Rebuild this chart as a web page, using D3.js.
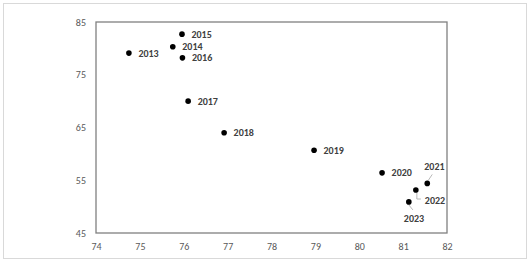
<!DOCTYPE html>
<html>
<head>
<meta charset="utf-8">
<script src="https://cdn.jsdelivr.net/npm/d3@7"></script>
<style>
  body { margin: 0; background: #fff; }
  text { font-family: Carlito, "Liberation Sans", Arial, sans-serif; }
</style>
</head>
<body>
<div id="chart"></div>
<script>
//chart data
var years = ['2013', '2014', '2015', '2016', '2017', '2018', '2019', '2020', '2021', '2022', '2023'];
var xValues = [74.75, 75.75, 75.96, 75.97, 76.1, 76.92, 78.97, 80.52, 81.55, 81.29, 81.13];
var yValues = [79.1, 80.3, 82.7, 78.2, 70.0, 64.0, 60.7, 56.4, 54.4, 53.15, 50.9];
var xTicks = [74, 75, 76, 77, 78, 79, 80, 81, 82];
var yTicks = [45, 55, 65, 75, 85];

//label placement: dx/dy from point, leader line for crowded ones
var labelPos = {
    '2021': { dx: -3, dy: -17, anchor: 'start', leader: [[1, -3], [5, -9]] },
    '2022': { dx: 9, dy: 10, anchor: 'start', leader: [[1, 3], [1, 9], [5, 9]] },
    '2023': { dx: -5, dy: 17, anchor: 'start', leader: [[0, 3], [4, 8]] }
};

var width = 530, height = 263,
    plot = { left: 96, right: 447, top: 22, bottom: 233 };

var svg = d3.select('#chart').append('svg')
    .attr('width', width)
    .attr('height', height);

//outer border
svg.append('rect')
    .attr('x', 3.5).attr('y', 3.5)
    .attr('width', 523).attr('height', 255)
    .attr('fill', '#fff')
    .attr('stroke', '#d9d9d9')
    .attr('stroke-width', 1);

var x = d3.scaleLinear().domain([74, 82]).range([plot.left, plot.right]);
var y = d3.scaleLinear().domain([45, 85]).range([plot.bottom, plot.top]);

//plot frame
svg.append('rect')
    .attr('x', plot.left).attr('y', plot.top)
    .attr('width', plot.right - plot.left)
    .attr('height', plot.bottom - plot.top)
    .attr('fill', 'none')
    .attr('stroke', '#808080')
    .attr('stroke-width', 1.3);

//x axis
var xAxis = svg.append('g')
    .attr('transform', 'translate(0,' + plot.bottom + ')')
    .call(d3.axisBottom(x).tickValues(xTicks).tickSize(0).tickPadding(10).tickFormat(d3.format('d')));
xAxis.select('.domain').remove();
xAxis.selectAll('text').attr('fill', '#595959').style('font-size', '10px');

//y axis
var yAxis = svg.append('g')
    .attr('transform', 'translate(' + plot.left + ',0)')
    .call(d3.axisLeft(y).tickValues(yTicks).tickSize(0).tickPadding(10).tickFormat(d3.format('d')));
yAxis.select('.domain').remove();
yAxis.selectAll('text').attr('fill', '#595959').style('font-size', '10px');

var data = years.map(function (d, i) { return { year: d, x: xValues[i], y: yValues[i] }; });

//leader lines
svg.selectAll('path.leader')
    .data(data.filter(function (d) { return labelPos[d.year]; }))
    .enter().append('path')
    .attr('class', 'leader')
    .attr('d', function (d) {
        var px = x(d.x), py = y(d.y);
        return d3.line()(labelPos[d.year].leader.map(function (p) { return [px + p[0], py + p[1]]; }));
    })
    .attr('fill', 'none')
    .attr('stroke', '#a6a6a6')
    .attr('stroke-width', 0.8);

//points
svg.selectAll('circle.pt')
    .data(data)
    .enter().append('circle')
    .attr('class', 'pt')
    .attr('cx', function (d) { return x(d.x); })
    .attr('cy', function (d) { return y(d.y); })
    .attr('r', 2.8)
    .attr('fill', '#000');

//labels
svg.selectAll('text.lbl')
    .data(data)
    .enter().append('text')
    .attr('class', 'lbl')
    .attr('x', function (d) { return x(d.x) + (labelPos[d.year] ? labelPos[d.year].dx : 9.5); })
    .attr('y', function (d) { return y(d.y) + (labelPos[d.year] ? labelPos[d.year].dy : 0); })
    .attr('dy', '0.35em')
    .attr('text-anchor', function (d) { return labelPos[d.year] ? labelPos[d.year].anchor : 'start'; })
    .attr('fill', '#404040')
    .style('font-size', '10px')
    .style('font-weight', 'bold')
    .text(function (d) { return d.year; });
</script>
</body>
</html>
